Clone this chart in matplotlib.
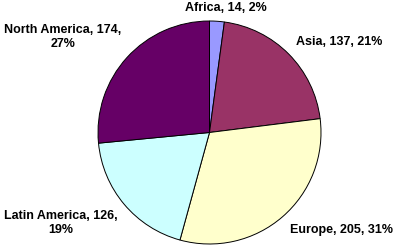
import matplotlib
matplotlib.use("Agg")
import matplotlib.pyplot as plt

# data
regions = ["Africa", "Asia", "Europe", "Latin America", "North America"]
counts = [14, 137, 205, 126, 174]
colors = ["#9999FF", "#993366", "#FFFFCC", "#CCFFFF", "#660066"]

# label positions in pixels (centre), and whether to wrap
label_px = [(226, 8), (339, 42), (341, 230), (61, 223), (63, 37)]
wrap = [False, False, False, True, True]

W, H = 398, 247
fig = plt.figure(figsize=(W / 100, H / 100), dpi=100)
# pie box: x 98..321, y 21..244 (pixels)
ax = fig.add_axes([98 / W, (H - 244) / H, 223 / W, 223 / H])

ax.pie(counts, colors=colors, startangle=90, counterclock=False,
       wedgeprops=dict(edgecolor="black", linewidth=0.7))
ax.set_aspect("auto")
ax.set_xlim(-1, 1)
ax.set_ylim(-1, 1)
ax.axis("off")

total = sum(counts)
for name, n, (px, py), w in zip(regions, counts, label_px, wrap):
    pct = round(100 * n / total)
    sep = ",\n" if w else ", "
    txt = f"{name}, {n}{sep}{pct}%"
    fig.text(px / W, 1 - py / H, txt, ha="center", va="center",
             fontsize=9, fontweight="bold", family="Liberation Sans",
             linespacing=1.3)

fig.savefig("out.png", dpi=100)
